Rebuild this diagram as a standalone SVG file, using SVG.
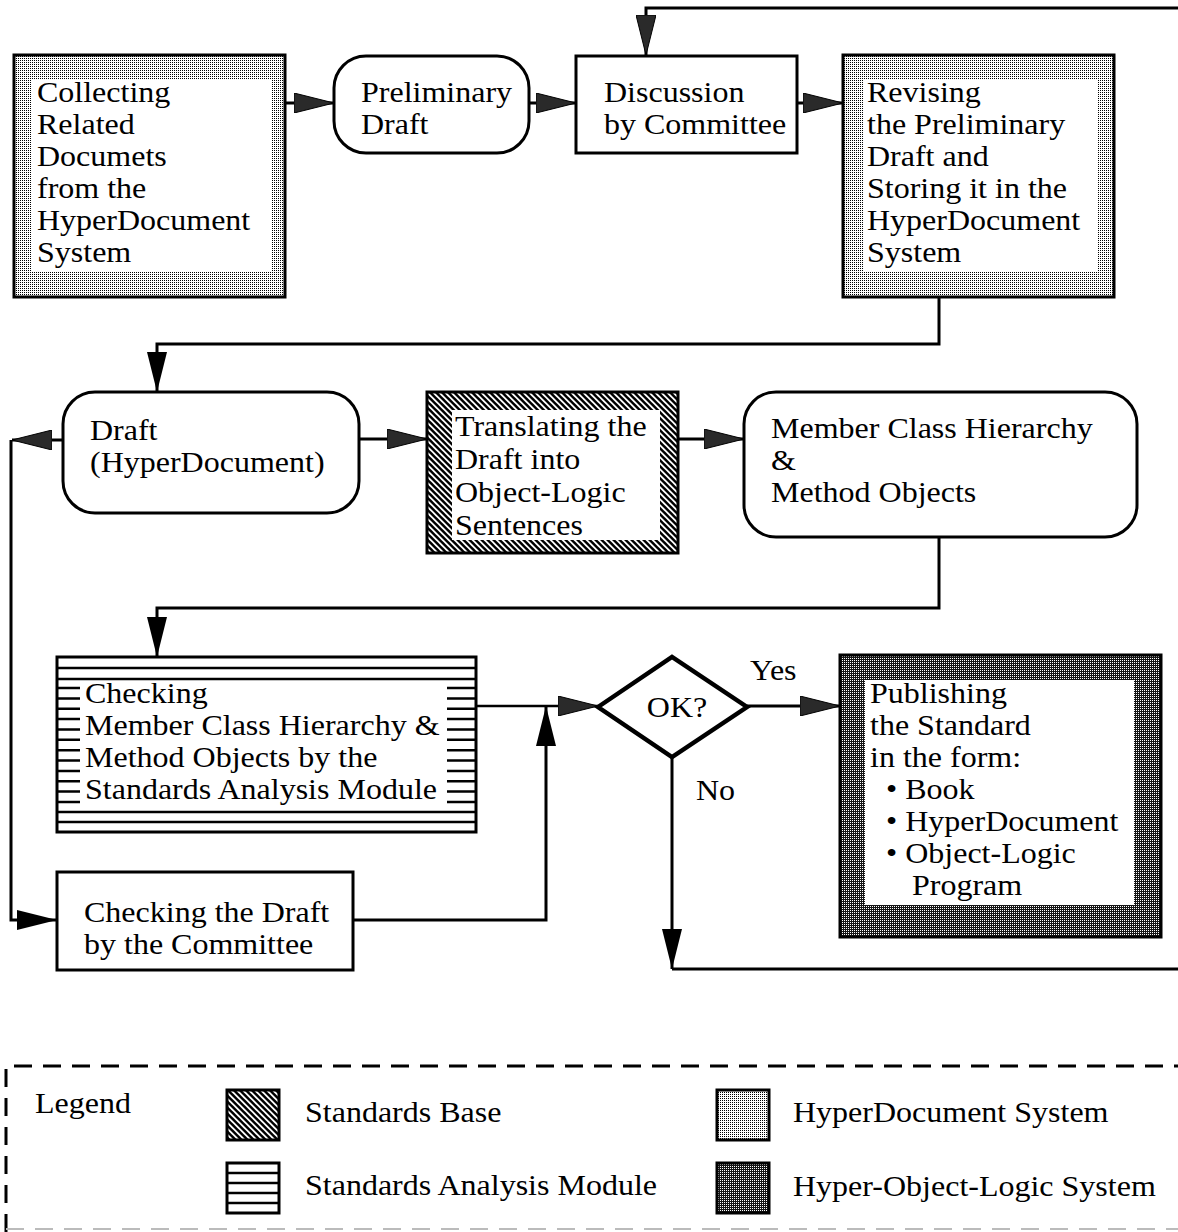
<svg xmlns="http://www.w3.org/2000/svg" width="1178" height="1232" viewBox="0 0 1178 1232">
  <style>
    text { font-family: "Liberation Serif", "Times New Roman", serif; font-size: 28.5px; fill: #000; }
    .box { fill: #fff; stroke: #000; stroke-width: 3; }
    .frame { stroke: #000; stroke-width: 3; }
    .inner { fill: #fff; stroke: none; }
    .ln { fill: none; stroke: #000; stroke-width: 3; }
    .thin { fill: none; stroke: #000; stroke-width: 2.5; }
    .dash { fill: none; stroke: #000; stroke-width: 3; stroke-dasharray: 18 11; }
  </style>
  <defs>
    <!-- light dotted screen: HyperDocument System -->
    <pattern id="lightDots" width="2" height="2" patternUnits="userSpaceOnUse">
      <rect width="2" height="2" fill="#fff"/>
      <rect width="1" height="1" fill="#000"/>
    </pattern>
    <!-- dark dotted screen: Hyper-Object-Logic System -->
    <pattern id="darkDots" width="2" height="2" patternUnits="userSpaceOnUse">
      <rect width="2" height="2" fill="#151515"/>
      <rect width="1" height="1" fill="#fff"/>
    </pattern>
    <!-- diagonal hatch, top-left to bottom-right: Standards Base -->
    <pattern id="hatch" width="6" height="6" patternUnits="userSpaceOnUse">
      <rect width="6" height="6" fill="#fff"/>
      <polygon points="0,0 3.4,0 6,2.6 6,6" fill="#000"/>
      <polygon points="0,2.6 3.4,6 0,6" fill="#000"/>
    </pattern>
    <marker id="ah" viewBox="0 0 40 20" refX="40" refY="10" markerWidth="40" markerHeight="20" markerUnits="userSpaceOnUse" orient="auto">
      <path d="M0,0 L40,10 L0,20 z" fill="#000"/>
    </marker>
    <marker id="ahg" viewBox="0 0 40 20" refX="40" refY="10" markerWidth="40" markerHeight="20" markerUnits="userSpaceOnUse" orient="auto">
      <path d="M0,0 L40,10 L0,20 z" fill="#2a2a2a" stroke="#000" stroke-width="1"/>
    </marker>
  </defs>

  <rect width="1178" height="1232" fill="#fff"/>

  <!-- connectors -->
  <g id="connectors">
    <path class="ln" d="M285,103 H334" marker-end="url(#ahg)"/>
    <path class="ln" d="M529,103 H576" marker-end="url(#ahg)"/>
    <path class="ln" d="M797,103 H843" marker-end="url(#ahg)"/>
    <path class="ln" d="M1178,8 H646 V55" marker-end="url(#ahg)"/>
    <path class="ln" d="M939,297 V344 H157 V392" marker-end="url(#ah)"/>
    <path class="ln" d="M63,440 H12" marker-end="url(#ahg)"/>
    <path class="ln" d="M11,440 V920 H57" marker-end="url(#ah)"/>
    <path class="ln" d="M359,439 H427" marker-end="url(#ahg)"/>
    <path class="ln" d="M678,439 H744" marker-end="url(#ahg)"/>
    <path class="ln" d="M939,537 V608 H157 V657" marker-end="url(#ah)"/>
    <path class="thin" d="M476,706 H598" marker-end="url(#ahg)"/>
    <path class="ln" d="M353,920 H546 V706" marker-end="url(#ah)"/>
    <path class="ln" d="M747,706 H840" marker-end="url(#ahg)"/>
    <path class="ln" d="M672,757 V969" marker-end="url(#ah)"/>
    <path class="ln" d="M672,969 H1178"/>
    <text transform="translate(750,680) scale(1.123,1)">Yes</text>
    <text transform="translate(696,800) scale(1.123,1)">No</text>
  </g>

  <!-- Collecting Related Documets -->
  <g id="collecting">
    <rect class="frame" x="14" y="55" width="271" height="242" fill="url(#lightDots)"/>
    <rect class="inner" x="32" y="80" width="240" height="192"/>
    <text transform="translate(37,102) scale(1.123,1)">Collecting</text>
    <text transform="translate(37,134) scale(1.123,1)">Related</text>
    <text transform="translate(37,166) scale(1.123,1)">Documets</text>
    <text transform="translate(37,198) scale(1.123,1)">from the</text>
    <text transform="translate(37,230) scale(1.123,1)">HyperDocument</text>
    <text transform="translate(37,262) scale(1.123,1)">System</text>
  </g>

  <!-- Preliminary Draft -->
  <g id="preliminary">
    <rect class="box" x="334" y="56" width="195" height="97" rx="32" ry="32"/>
    <text transform="translate(361,102) scale(1.123,1)">Preliminary</text>
    <text transform="translate(361,134) scale(1.123,1)">Draft</text>
  </g>

  <!-- Discussion by Committee -->
  <g id="discussion">
    <rect class="box" x="576" y="56" width="221" height="97"/>
    <text transform="translate(604,102) scale(1.123,1)">Discussion</text>
    <text transform="translate(604,134) scale(1.123,1)">by Committee</text>
  </g>

  <!-- Revising the Preliminary Draft -->
  <g id="revising">
    <rect class="frame" x="843" y="55" width="271" height="242" fill="url(#lightDots)"/>
    <rect class="inner" x="864" y="80" width="233" height="192"/>
    <text transform="translate(867,102) scale(1.123,1)">Revising</text>
    <text transform="translate(867,134) scale(1.123,1)">the Preliminary</text>
    <text transform="translate(867,166) scale(1.123,1)">Draft and</text>
    <text transform="translate(867,198) scale(1.123,1)">Storing it in the</text>
    <text transform="translate(867,230) scale(1.123,1)">HyperDocument</text>
    <text transform="translate(867,262) scale(1.123,1)">System</text>
  </g>

  <!-- Draft (HyperDocument) -->
  <g id="draft">
    <rect class="box" x="63" y="392" width="296" height="121" rx="32" ry="32"/>
    <text transform="translate(90,440) scale(1.123,1)">Draft</text>
    <text transform="translate(90,472) scale(1.123,1)">(HyperDocument)</text>
  </g>

  <!-- Translating the Draft -->
  <g id="translating">
    <rect class="frame" x="427" y="392" width="251" height="161" fill="url(#hatch)"/>
    <rect class="inner" x="452" y="410" width="208" height="130"/>
    <text transform="translate(455,436) scale(1.123,1)">Translating the</text>
    <text transform="translate(455,469) scale(1.123,1)">Draft into</text>
    <text transform="translate(455,502) scale(1.123,1)">Object-Logic</text>
    <text transform="translate(455,535) scale(1.123,1)">Sentences</text>
  </g>

  <!-- Member Class Hierarchy & Method Objects -->
  <g id="member">
    <rect class="box" x="744" y="392" width="393" height="145" rx="32" ry="32"/>
    <text transform="translate(771,438) scale(1.123,1)">Member Class Hierarchy</text>
    <text transform="translate(771,470) scale(1.123,1)">&amp;</text>
    <text transform="translate(771,502) scale(1.123,1)">Method Objects</text>
  </g>

  <!-- Checking by the Standards Analysis Module -->
  <g id="checking-sam">
    <rect class="box" x="57" y="657" width="419" height="175"/>
    <path fill="none" stroke="#000" stroke-width="2.5" d="M57,668 H476 M57,679 H476 M57,812 H476 M57,822 H476
      M57,688 H80 M57,698.4 H80 M57,708.7 H80 M57,719.1 H80 M57,729.4 H80 M57,739.8 H80 M57,750.2 H80 M57,760.5 H80 M57,770.9 H80 M57,781.2 H80 M57,791.6 H80 M57,802 H80
      M447,688 H476 M447,698.4 H476 M447,708.7 H476 M447,719.1 H476 M447,729.4 H476 M447,739.8 H476 M447,750.2 H476 M447,760.5 H476 M447,770.9 H476 M447,781.2 H476 M447,791.6 H476 M447,802 H476"/>
    <text transform="translate(85,703) scale(1.123,1)">Checking</text>
    <text transform="translate(85,735) scale(1.123,1)">Member Class Hierarchy &amp;</text>
    <text transform="translate(85,767) scale(1.123,1)">Method Objects by the</text>
    <text transform="translate(85,799) scale(1.123,1)">Standards Analysis Module</text>
  </g>

  <!-- Checking the Draft by the Committee -->
  <g id="checking-committee">
    <rect class="box" x="57" y="872" width="296" height="98"/>
    <text transform="translate(84,922) scale(1.123,1)">Checking the Draft</text>
    <text transform="translate(84,954) scale(1.123,1)">by the Committee</text>
  </g>

  <!-- OK? decision -->
  <g id="decision">
    <polygon points="598,707 672,657 747,707 672,757" fill="#fff" stroke="#000" stroke-width="4.5" stroke-linejoin="miter"/>
    <text transform="translate(677,717) scale(1.123,1)" text-anchor="middle">OK?</text>
  </g>

  <!-- Publishing the Standard -->
  <g id="publishing">
    <rect class="frame" x="840" y="655" width="321" height="282" fill="url(#darkDots)"/>
    <rect class="inner" x="865" y="680" width="269" height="225"/>
    <text transform="translate(870,703) scale(1.123,1)">Publishing</text>
    <text transform="translate(870,735) scale(1.123,1)">the Standard</text>
    <text transform="translate(870,767) scale(1.123,1)">in the form:</text>
    <text transform="translate(886,799) scale(1.123,1)">• Book</text>
    <text transform="translate(886,831) scale(1.123,1)">• HyperDocument</text>
    <text transform="translate(886,863) scale(1.123,1)">• Object-Logic</text>
    <text transform="translate(912,895) scale(1.123,1)">Program</text>
  </g>

  <!-- Legend -->
  <g id="legend">
    <path class="dash" d="M6,1232 V1066 H1178"/>
    <path fill="none" stroke="#bbb" stroke-width="2" stroke-dasharray="18 11" d="M6,1229 H1178"/>
    <text transform="translate(35,1113) scale(1.123,1)">Legend</text>
    <rect class="frame" x="227" y="1090" width="52" height="50" fill="url(#hatch)"/>
    <text transform="translate(305,1122) scale(1.123,1)">Standards Base</text>
    <rect class="box" x="227" y="1163" width="52" height="50"/>
    <path fill="none" stroke="#000" stroke-width="2.5" d="M227,1173 H279 M227,1183 H279 M227,1193 H279 M227,1203 H279"/>
    <text transform="translate(305,1195) scale(1.123,1)">Standards Analysis Module</text>
    <rect class="frame" x="717" y="1090" width="52" height="50" fill="url(#lightDots)"/>
    <text transform="translate(793,1122) scale(1.123,1)">HyperDocument System</text>
    <rect class="frame" x="717" y="1163" width="52" height="50" fill="url(#darkDots)"/>
    <text transform="translate(793,1196) scale(1.123,1)">Hyper-Object-Logic System</text>
  </g>
</svg>
